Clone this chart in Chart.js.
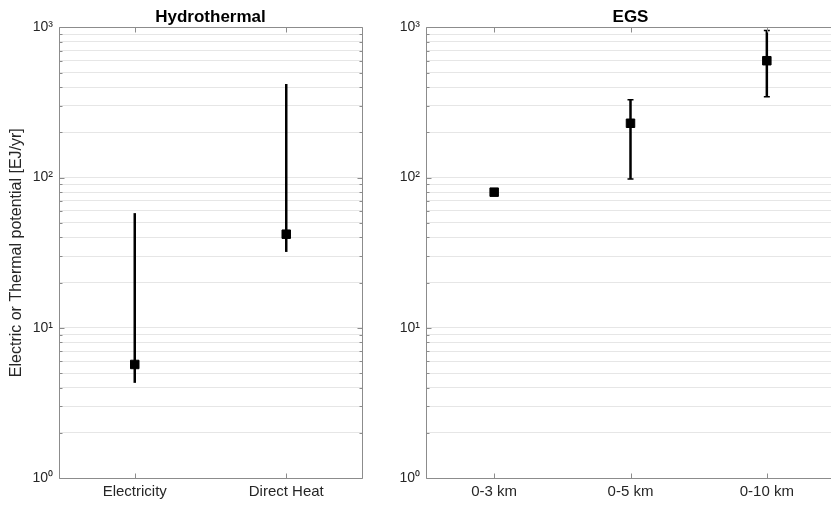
<!DOCTYPE html>
<html>
<head>
<meta charset="utf-8">
<script src="https://cdn.jsdelivr.net/npm/chart.js@4.4.0/dist/chart.umd.min.js"></script>
<style>
  html, body { margin: 0; padding: 0; background: #fff; overflow: hidden; }
  #wrap { position: relative; width: 831px; height: 505px; overflow: hidden; }
  canvas { position: absolute; top: 0; }
  #hydro { left: 0; }
  #egs { left: 372px; }
</style>
</head>
<body>
<div id="wrap">
  <canvas id="hydro" width="400" height="505"></canvas>
  <canvas id="egs" width="470" height="505"></canvas>
</div>
<script>
// Hydrothermal potential
const hydroLabels = ['Electricity', 'Direct Heat'];
const hydroValue = [5.7, 42];
const hydroLow = [4.3, 32];
const hydroHigh = [58, 420];

// EGS potential by depth
const egsLabels = ['0-3 km', '0-5 km', '0-10 km'];
const egsValue = [80, 230, 600];
const egsLow = [null, 98, 345];
const egsHigh = [null, 330, 955];

// log grid lines and decade labels
const yTicks = [1, 2, 3, 4, 5, 6, 7, 8, 9,
  10, 20, 30, 40, 50, 60, 70, 80, 90,
  100, 200, 300, 400, 500, 600, 700, 800, 900, 1000];
const decadeLabels = { 1: '10\u2070', 10: '10\u00b9', 100: '10\u00b2', 1000: '10\u00b3' };

const FONT = 'Liberation Sans, Arial, Helvetica, sans-serif';
const TEXT = '#262626';
const AXIS = '#8c8c8c';

// vertical range bars behind the square markers
const errorBars = {
  id: 'errorBars',
  beforeDatasetsDraw(chart, args, opts) {
    const { ctx, scales } = chart;
    ctx.save();
    ctx.strokeStyle = '#000';
    opts.low.forEach((lo, i) => {
      const hi = opts.high[i];
      if (lo == null || hi == null) return;
      const x = scales.x.getPixelForValue(i);
      const y1 = scales.y.getPixelForValue(lo);
      const y2 = scales.y.getPixelForValue(hi);
      ctx.lineWidth = 2.5;
      ctx.beginPath();
      ctx.moveTo(x, y1);
      ctx.lineTo(x, y2);
      ctx.stroke();
      if (opts.cap) {
        ctx.lineWidth = 1.5;
        ctx.beginPath();
        ctx.moveTo(x - opts.cap, y1); ctx.lineTo(x + opts.cap, y1);
        ctx.moveTo(x - opts.cap, y2); ctx.lineTo(x + opts.cap, y2);
        ctx.stroke();
      }
    });
    ctx.restore();
  }
};

// axes box with inward tick marks
const frame = {
  id: 'frame',
  afterDraw(chart, args, opts) {
    const { ctx, chartArea: a, scales } = chart;
    const L = Math.round(a.left) + 0.5, R = Math.round(a.right) + 0.5;
    const T = Math.round(a.top) + 0.5, B = Math.round(a.bottom) + 0.5;
    ctx.save();
    ctx.strokeStyle = AXIS;
    ctx.lineWidth = 1;
    ctx.beginPath();
    ctx.moveTo(R, T); ctx.lineTo(L, T); ctx.lineTo(L, B); ctx.lineTo(R, B);
    if (opts.right) { ctx.moveTo(R, T); ctx.lineTo(R, B); }
    yTicks.forEach(v => {
      const y = Math.round(scales.y.getPixelForValue(v)) + 0.5;
      const len = decadeLabels[v] ? 5 : 3;
      ctx.moveTo(L, y); ctx.lineTo(L + len, y);
      if (opts.right) { ctx.moveTo(R, y); ctx.lineTo(R - len, y); }
    });
    chart.data.labels.forEach((_, i) => {
      const x = Math.round(scales.x.getPixelForValue(i)) + 0.5;
      ctx.moveTo(x, B); ctx.lineTo(x, B - 5);
      ctx.moveTo(x, T); ctx.lineTo(x, T + 5);
    });
    ctx.stroke();
    ctx.restore();
  }
};

function makeChart(id, title, labels, values, low, high, cap, yWidth, showYTitle, right, padRight) {
  return new Chart(document.getElementById(id), {
    type: 'line',
    data: {
      labels: labels,
      datasets: [{
        data: values,
        showLine: false,
        pointStyle: 'rect',
        pointRadius: 6,
        pointBackgroundColor: '#000',
        pointBorderColor: '#000',
        pointBorderWidth: 1
      }]
    },
    options: {
      responsive: false,
      animation: false,
      events: [],
      layout: { padding: { left: 0, right: padRight, top: 0, bottom: 0 } },
      plugins: {
        legend: { display: false },
        tooltip: { enabled: false },
        title: {
          display: true,
          text: title,
          fullSize: false,
          color: '#000',
          font: { family: FONT, size: 17, weight: 'bold' },
          padding: { top: 7, bottom: 0 }
        },
        errorBars: { low: low, high: high, cap: cap },
        frame: { right: right }
      },
      scales: {
        x: {
          type: 'category',
          offset: true,
          afterFit: s => { s.height = 27; },
          grid: { display: false, drawTicks: false },
          border: { display: false },
          ticks: { color: TEXT, padding: 5, font: { family: FONT, size: 15 } }
        },
        y: {
          type: 'logarithmic',
          min: 1,
          max: 1000,
          afterBuildTicks: s => { s.ticks = yTicks.map(v => ({ value: v })); },
          afterFit: s => { s.width = yWidth; },
          grid: { color: '#e6e6e6', drawTicks: false },
          border: { display: false },
          ticks: {
            autoSkip: false,
            padding: 6,
            color: TEXT,
            font: { family: FONT, size: 14 },
            callback: v => decadeLabels[v] || ''
          },
          title: {
            display: showYTitle,
            text: 'Electric or Thermal potential [EJ/yr]',
            color: TEXT,
            font: { family: FONT, size: 16 },
            padding: { top: 7, bottom: 0 }
          }
        }
      }
    },
    plugins: [errorBars, frame]
  });
}

makeChart('hydro', 'Hydrothermal', hydroLabels, hydroValue, hydroLow, hydroHigh, 0, 59, true, true, 38);
makeChart('egs', 'EGS', egsLabels, egsValue, egsLow, egsHigh, 3, 54, false, false, 3);
</script>
</body>
</html>
